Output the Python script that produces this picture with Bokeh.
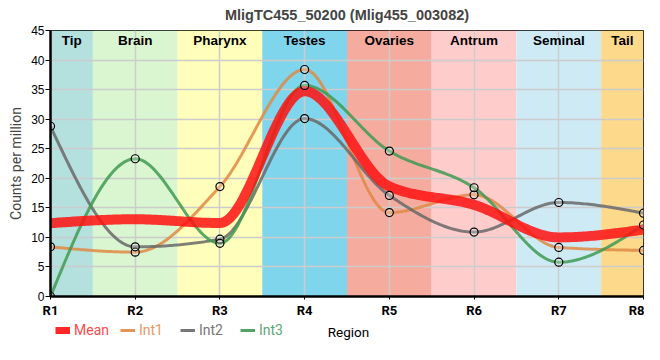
import numpy as np
from bokeh.plotting import figure
from bokeh.layouts import column
from bokeh.models import Legend, LegendItem, FixedTicker, Range1d, Label
from bokeh.core.properties import value
from bokeh.embed import file_html
from bokeh.resources import INLINE

# ---------------- data ----------------
regions = ["R1", "R2", "R3", "R4", "R5", "R6", "R7", "R8"]
int1 = [8.4, 7.5, 18.6, 38.4, 14.2, 17.2, 8.3, 7.8]
int2 = [28.8, 8.4, 9.7, 30.1, 17.1, 10.9, 15.9, 14.1]
int3 = [0.0, 23.3, 9.0, 35.7, 24.6, 18.4, 5.8, 12.1]
mean = [round((a + b + c) / 3, 2) for a, b, c in zip(int1, int2, int3)]

band_names = ["Tip", "Brain", "Pharynx", "Testes", "Ovaries", "Antrum", "Seminal", "Tail"]
band_left = [1, 1.5, 2.5, 3.5, 4.5, 5.5, 6.5, 7.5]
band_right = [1.5, 2.5, 3.5, 4.5, 5.5, 6.5, 7.5, 8]
band_colors = ["#b4e1de", "#d9f6d1", "#ffffbb", "#7fd5eb", "#f5ac9e", "#ffcccc", "#ceeaf4", "#fdd98b"]

y_ticks = list(range(0, 50, 5))


# monotone cubic interpolation (d3 curveMonotoneX)
def monotone(xs, ys, n=40):
    xs = np.asarray(xs, float)
    ys = np.asarray(ys, float)
    k = len(xs)
    h = np.diff(xs)
    s = np.diff(ys) / h
    t = np.zeros(k)
    for i in range(1, k - 1):
        s0, s1 = s[i - 1], s[i]
        p_ = (s0 * h[i] + s1 * h[i - 1]) / (h[i - 1] + h[i])
        t[i] = (np.sign(s0) + np.sign(s1)) * min(abs(s0), abs(s1), 0.5 * abs(p_))
    t[0] = (3 * s[0] - t[1]) / 2
    t[-1] = (3 * s[-1] - t[-2]) / 2
    ox, oy = [], []
    for i in range(k - 1):
        u = np.linspace(0, 1, n, endpoint=(i == k - 2))
        h00 = 2 * u**3 - 3 * u**2 + 1
        h10 = u**3 - 2 * u**2 + u
        h01 = -2 * u**3 + 3 * u**2
        h11 = u**3 - u**2
        ox.extend(xs[i] + u * h[i])
        oy.extend(h00 * ys[i] + h10 * h[i] * t[i] + h01 * ys[i + 1] + h11 * h[i] * t[i + 1])
    return np.array(ox), np.array(oy)


xpos = list(range(1, len(regions) + 1))

p = figure(width=644, height=320, output_backend="svg", toolbar_location=None,
           x_range=Range1d(1, 8), y_range=Range1d(0, 45),
           min_border_left=50, min_border_right=1, min_border_top=30, min_border_bottom=20,
           title="MligTC455_50200 (Mlig455_003082)")
p.title.align = "center"
p.title.vertical_align = "top"
p.title.text_font = "Liberation Sans"
p.title.text_font_size = "14.5px"
p.title.text_font_style = "bold"
p.title.offset = 0
p.title.standoff = 11

p.outline_line_color = "black"
p.outline_line_width = 1
p.background_fill_color = "white"
p.border_fill_color = "white"

# bands
p.quad(left=band_left, right=band_right, bottom=0, top=45, color=band_colors,
       line_color=None, level="image")

# grid
p.xgrid.ticker = FixedTicker(ticks=xpos)
p.ygrid.ticker = FixedTicker(ticks=y_ticks)
p.grid.grid_line_color = "#cccccc"
p.grid.grid_line_width = 1.5

# band labels
cx = [(a + b) / 2 for a, b in zip(band_left, band_right)]
p.text(x=cx, y=[43.3] * len(cx), text=band_names, text_align="center",
       text_baseline="middle", text_font=value("Liberation Sans"),
       text_font_size="13.5px", text_font_style="bold", text_color="black")

series = [("Int1", int1, "#df8a45"), ("Int2", int2, "#686868"), ("Int3", int3, "#3f9a52")]
for name, ys, col in series:
    sx, sy = monotone(xpos, ys)
    p.line(sx, sy, line_color=col, line_width=3, line_alpha=0.85)

mx, my = monotone(xpos, mean)
p.line(mx, my, line_color="#ff1010", line_width=10, line_alpha=0.85)

for name, ys, col in series:
    p.scatter(xpos, ys, size=8, fill_color="white", fill_alpha=0.25,
              line_color="black", line_width=1.2)

# axes
p.xaxis.ticker = FixedTicker(ticks=xpos)
p.xaxis.major_label_overrides = {i + 1: r for i, r in enumerate(regions)}
p.yaxis.ticker = FixedTicker(ticks=y_ticks)
for ax in (p.xaxis[0], p.yaxis[0]):
    ax.axis_line_width = 2.5
    ax.axis_line_color = "black"
    ax.major_tick_line_color = "black"
    ax.major_tick_in = 0
    ax.minor_tick_line_color = None
    ax.major_label_text_color = "black"
    ax.axis_label_text_font = "Roboto"
    ax.axis_label_text_font_style = "normal"
    ax.axis_label_text_font_size = "14px"
p.xaxis.major_tick_out = 3
p.yaxis.major_tick_out = 5
p.xaxis.major_label_text_font = "Roboto"
p.xaxis.major_label_text_font_style = "bold"
p.xaxis.major_label_text_font_size = "13px"
p.xaxis.major_label_standoff = 3
p.yaxis.major_label_text_font = "Liberation Sans"
p.yaxis.major_label_text_font_size = "12px"
p.yaxis.major_label_standoff = 1
p.yaxis.axis_label = "Counts per million"
p.yaxis.axis_label_standoff = 4

# ---------- legend strip with the x-axis title ----------
p2 = figure(width=644, height=24, output_backend="svg", toolbar_location=None,
            x_axis_location=None, y_axis_location=None,
            min_border_left=50, min_border_right=1, min_border_top=0, min_border_bottom=0)
p2.outline_line_color = None
p2.background_fill_color = "white"
p2.border_fill_color = "white"

leg_names = ["Mean", "Int1", "Int2", "Int3"]
leg_line_colors = ["#ff1010", "#df8a45", "#686868", "#3f9a52"]
leg_text_colors = ["#ff4a4a", "#e59a62", "#777777", "#5ea66f"]
leg_widths = [7, 3, 3, 3]
leg_x = [5, 70, 130, 190]
for lab, col, tcol, lw, lx in zip(leg_names, leg_line_colors, leg_text_colors, leg_widths, leg_x):
    r = p2.line(x=[np.nan], y=[np.nan], line_color=col, line_width=lw, line_alpha=0.9)
    lg = Legend(items=[LegendItem(label=lab, renderers=[r])], location=(lx, 6),
                orientation="horizontal", padding=0, margin=0, spacing=0,
                glyph_width=15, glyph_height=16, label_standoff=4, label_height=16,
                label_text_font="Roboto", label_text_font_size="14px",
                label_text_color=tcol, border_line_color=None,
                background_fill_alpha=0)
    p2.add_layout(lg, "center")

p2.add_layout(Label(x=298, y=13, x_units="screen", y_units="screen", text="Region",
                    text_align="center", text_baseline="middle",
                    text_font="Roboto", text_font_size="13.5px", text_color="black"))

open("out.html", "w").write(file_html(column(p, p2, spacing=0), INLINE))
